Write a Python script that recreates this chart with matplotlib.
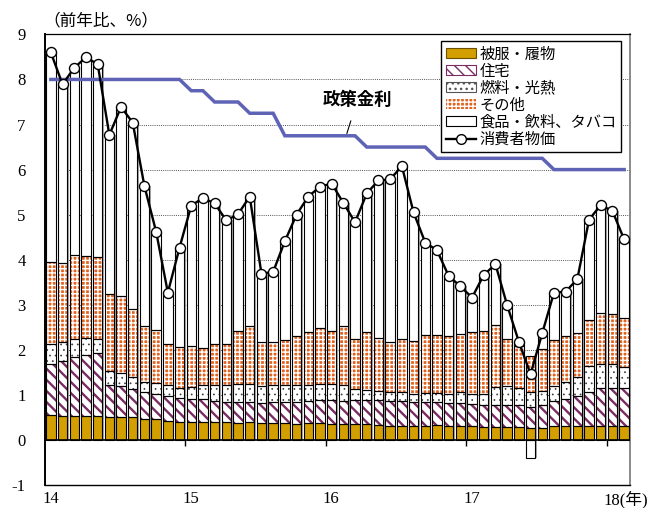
import numpy as np
import matplotlib
matplotlib.use("Agg")
import matplotlib.pyplot as plt
from matplotlib.patches import Patch
from matplotlib.lines import Line2D
import matplotlib.transforms as mtransforms

# ---- data (monthly, Jan 2014 .. Feb 2018), contributions in % points ----
clothing = [0.55, 0.54, 0.54, 0.54, 0.53, 0.52, 0.52, 0.51, 0.47, 0.46, 0.43, 0.39, 0.39, 0.40, 0.40, 0.39,
            0.37, 0.39, 0.37, 0.37, 0.37, 0.35, 0.37, 0.37, 0.35, 0.35, 0.35, 0.35, 0.33, 0.31, 0.31, 0.31, 0.31,
            0.33, 0.32, 0.32, 0.30, 0.29, 0.29, 0.29, 0.29, 0.26, 0.26, 0.30, 0.30, 0.30, 0.32, 0.32, 0.32, 0.32]
housing = [1.14, 1.22, 1.29, 1.34, 1.39, 0.69, 0.68, 0.62, 0.59, 0.57, 0.55, 0.53, 0.51, 0.50, 0.47, 0.46,
           0.48, 0.46, 0.44, 0.47, 0.48, 0.50, 0.49, 0.52, 0.54, 0.52, 0.54, 0.54, 0.55, 0.55, 0.56, 0.54, 0.54,
           0.52, 0.49, 0.49, 0.50, 0.49, 0.49, 0.49, 0.48, 0.48, 0.52, 0.56, 0.60, 0.68, 0.74, 0.83, 0.84, 0.83]
fuel = [0.43, 0.42, 0.40, 0.39, 0.33, 0.32, 0.29, 0.26, 0.23, 0.23, 0.24, 0.24, 0.27, 0.33, 0.36, 0.38,
        0.39, 0.39, 0.39, 0.39, 0.36, 0.36, 0.37, 0.36, 0.36, 0.34, 0.24, 0.22, 0.21, 0.20, 0.19, 0.18, 0.20,
        0.20, 0.20, 0.26, 0.23, 0.24, 0.39, 0.42, 0.38, 0.32, 0.31, 0.34, 0.39, 0.42, 0.57, 0.53, 0.52, 0.46]
other = [1.83, 1.75, 1.88, 1.81, 1.82, 1.70, 1.70, 1.51, 1.24, 1.18, 0.92, 0.91, 0.92, 0.81, 0.91, 0.91,
         1.18, 1.29, 0.97, 0.94, 1.01, 1.10, 1.17, 1.24, 1.17, 1.31, 1.10, 1.28, 1.18, 1.11, 1.19, 1.17, 1.28,
         1.28, 1.30, 1.27, 1.36, 1.40, 1.39, 1.05, 0.93, 0.80, 0.92, 1.02, 1.02, 0.97, 1.03, 1.13, 1.11, 1.10]
food = [4.65, 3.96, 4.15, 4.41, 4.27, 3.54, 4.20, 4.14, 3.10, 2.18, 1.13, 2.20, 3.11, 3.33, 3.11, 2.73,
        2.59, 2.87, 1.52, 1.56, 2.19, 2.69, 3.00, 3.13, 3.27, 2.74, 2.60, 3.08, 3.49, 3.61, 3.83, 2.85, 2.05,
        1.88, 1.33, 1.07, 0.77, 1.24, 1.34, 0.74, 0.10, -0.40, 0.36, 1.05, 0.98, 1.20, 2.23, 2.40, 2.29, 1.74]
cpi = [8.60, 7.89, 8.26, 8.49, 8.34, 6.77, 7.39, 7.04, 5.63, 4.62, 3.27, 4.27, 5.20, 5.37, 5.25, 4.87,
       5.01, 5.40, 3.69, 3.73, 4.41, 5.00, 5.40, 5.62, 5.69, 5.26, 4.83, 5.47, 5.76, 5.78, 6.08, 5.05, 4.38,
       4.21, 3.64, 3.41, 3.16, 3.66, 3.90, 2.99, 2.18, 1.46, 2.37, 3.27, 3.29, 3.57, 4.89, 5.21, 5.08, 4.45]
policy_rate = [8.0] * 12 + [7.75] * 2 + [7.5] * 3 + [7.25] * 3 + [6.75] * 7 + [6.5] * 6 + [6.25] * 10 + [6.0] * 7
year_ticks = [0, 12, 24, 36, 48]
year_labels = ["14", "15", "16", "17", "18(年)"]
legend_labels = ["被服・履物", "住宅", "燃料・光熱", "その他", "食品・飲料、タバコ", "消費者物価"]

SERIF = ["Liberation Serif", "Noto Sans CJK JP"]
JP = ["Noto Sans CJK JP", "DejaVu Sans"]
plt.rcParams["font.family"] = SERIF

c_cloth = "#D39E00"
c_house = "#7B2C62"
c_fuel = "#3a3a3a"
c_other = "#E2631F"
c_policy = "#5E63B6"

fig = plt.figure(figsize=(6.59, 5.08), dpi=100)
ax = fig.add_axes([45 / 659, 23 / 508, 585 / 659, 450.6 / 508])

n = len(cpi)
x = np.arange(n) + 0.5
w = 0.8
clothing = np.array(clothing); housing = np.array(housing); fuel = np.array(fuel)
other = np.array(other); food = np.array(food); cpi = np.array(cpi)

b1 = np.zeros(n)
b2 = b1 + clothing
b3 = b2 + housing
b4 = b3 + fuel
b5 = b4 + other
food_bottom = np.where(food >= 0, b5, 0.0)

# gray shadow behind each bar
lo = np.minimum(0, food)
hi = np.maximum(b5, b5 + np.maximum(food, 0))
ax.bar(x + 0.13, hi - lo, w, bottom=lo, color="#a8a8a8", linewidth=0, zorder=1)

def layer(h, bottom, face, hatch=None, hcol=None, hlw=1.0):
    with plt.rc_context({"hatch.linewidth": hlw}):
        bars = ax.bar(x, h, w, bottom=bottom, facecolor=face,
                      edgecolor=(hcol if hcol else face), linewidth=0, hatch=hatch, zorder=2)
        for p in bars:
            try:
                p.set_hatch_linewidth(hlw)
            except Exception:
                pass
    ax.bar(x, h, w, bottom=bottom, facecolor="none", edgecolor="black", linewidth=0.8, zorder=3)

layer(clothing, b1, c_cloth)
layer(housing, b2, "white", "\\\\\\", c_house, 1.7)
layer(fuel, b3, "white", "...", c_fuel, 0.5)
layer(other, b4, c_other, "++++", "white", 1.0)
layer(food, food_bottom, "white")

# grid
for yv in range(1, 9):
    ax.axhline(yv, color="#555555", lw=0.7, ls=(0, (1, 1.2)), zorder=0.5)
ax.axhline(0, color="black", lw=1.2, zorder=4)
ax.vlines(year_ticks[1:], -0.14, 0, color="black", lw=1.0, zorder=4)

# lines
ax.plot(x, policy_rate, color=c_policy, lw=2.5, zorder=5, solid_joinstyle="miter")
ax.plot(x, cpi, color="black", lw=1.7, marker="o", markersize=7.2, markerfacecolor="white",
        markeredgecolor="black", markeredgewidth=1.0, zorder=6)

ax.annotate("政策金利", xy=(25.8, 6.80), xytext=(26.7, 7.55), ha="center", va="center",
            fontsize=12.5, fontweight="bold", family=JP,
            arrowprops=dict(arrowstyle="-", color="black", lw=0.8, shrinkA=7, shrinkB=0), zorder=7)

ax.set_xlim(0, 50)
ax.set_ylim(-1, 9)
ax.set_yticks(range(-1, 10))
ax.set_yticklabels([str(v) for v in range(-1, 10)], fontsize=12)
ax.tick_params(axis="y", length=0, pad=14)
ax.set_xticks(year_ticks)
ax.set_xticklabels(year_labels, fontsize=12)
ax.tick_params(axis="x", length=0, pad=4)
offset = mtransforms.ScaledTranslation(-3 / 100, 0, fig.dpi_scale_trans)
for lab in ax.get_xticklabels():
    lab.set_horizontalalignment("left")
    lab.set_transform(lab.get_transform() + offset)

for side in ["left", "bottom", "top"]:
    ax.spines[side].set_color("black")
ax.spines["left"].set_linewidth(1.4)
ax.spines["bottom"].set_linewidth(1.0)
ax.spines["top"].set_linewidth(0.9)
ax.spines["right"].set_color("#777777")
ax.spines["right"].set_linewidth(1.2)

fig.text(43 / 659, 1 - 21 / 508, "（前年比、%）", fontsize=12, family=JP, va="center", ha="left")

# legend
handles = [
    Patch(facecolor=c_cloth, edgecolor="#6b5000", linewidth=0.8),
    Patch(facecolor="white", edgecolor=c_house, hatch="\\\\\\", linewidth=0.8),
    Patch(facecolor="white", edgecolor="#555555", hatch="...", linewidth=0.8),
    Patch(facecolor=c_other, edgecolor="white", hatch="++++", linewidth=0.0),
    Patch(facecolor="white", edgecolor="black", linewidth=0.8),
    Line2D([0], [0], color="black", lw=1.7, marker="o", markersize=7, markerfacecolor="white",
           markeredgecolor="black"),
]
leg = ax.legend(handles, legend_labels, loc="upper right", bbox_to_anchor=(0.985, 0.985),
                borderaxespad=0, prop={"family": JP, "size": 11}, frameon=True, fancybox=False,
                edgecolor="black", framealpha=1, labelspacing=0.0, handlelength=2.0,
                handleheight=0.65, handletextpad=0.2, borderpad=0.3)
leg.get_frame().set_linewidth(1.0)
leg.set_zorder(10)

fig.savefig("out.png", dpi=100)
